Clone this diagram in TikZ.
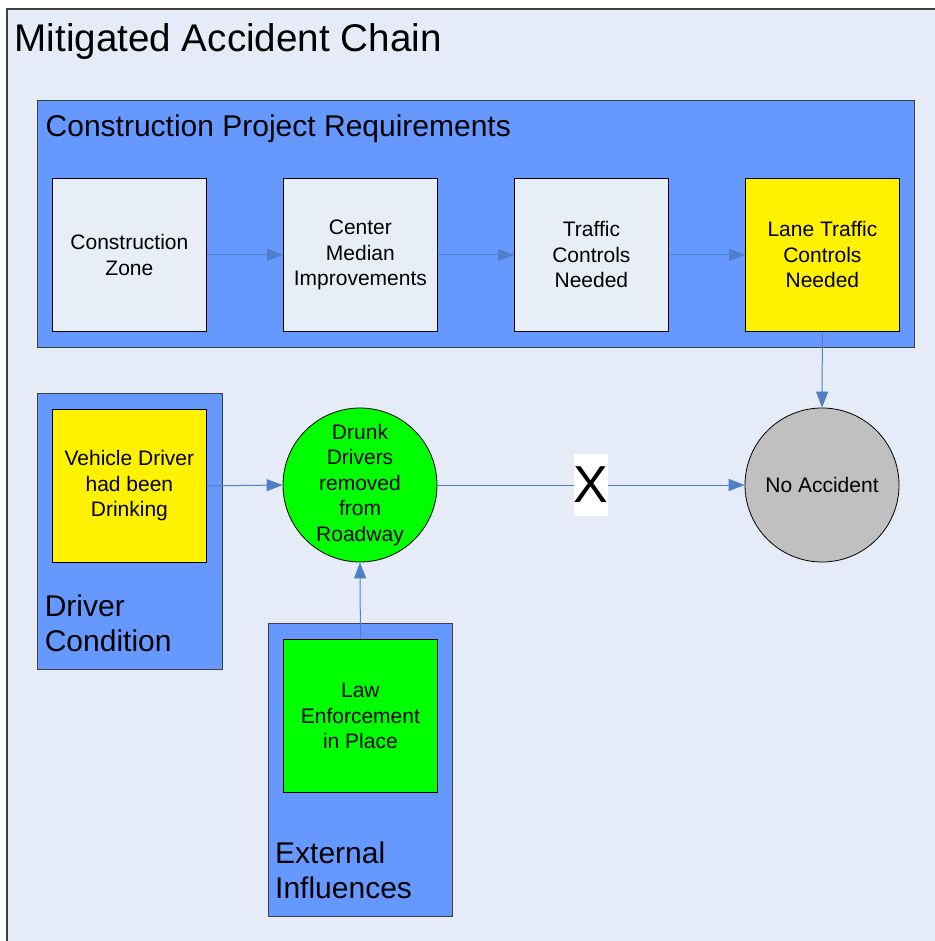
\documentclass[tikz,border=0pt]{standalone}
\usepackage{fontspec}
\setmainfont{Liberation Sans}
\usetikzlibrary{arrows.meta}

\definecolor{pagebg}{HTML}{E6ECF7}
\definecolor{groupblue}{HTML}{6699FF}
\definecolor{boxfill}{HTML}{E8EEF8}
\definecolor{linkblue}{HTML}{4F7FC6}
\definecolor{framegray}{HTML}{404040}
\definecolor{stopgray}{HTML}{C0C0C0}

\newcommand{\boxfont}{\fontsize{21}{25.5}\selectfont}
\newcommand{\groupfont}{\fontsize{30}{35}\selectfont}

\begin{document}
\begin{tikzpicture}[x=1pt,y=-1pt,
  frame/.style={draw=framegray, line width=1.5pt, fill=pagebg},
  group/.style={draw=black!75, line width=1pt, fill=groupblue, inner sep=0pt,
    anchor=north west},
  task/.style={draw=black, line width=0.8pt, minimum width=154pt, minimum height=153pt,
    inner sep=0pt, align=center, font=\boxfont, anchor=north west},
  state/.style={circle, draw=black, line width=0.8pt, minimum size=154pt,
    inner sep=0pt, align=center, font=\boxfont},
  grouplabel/.style={inner sep=0pt, anchor=base west, align=left, font=\groupfont},
  link/.style={draw=linkblue, line width=1pt,
    -{Triangle[length=16pt,width=12pt,fill=linkblue]}},
]
% page size
\useasboundingbox (0,0) rectangle (934,941);

% outer frame, running past the right and bottom page edges
\path[frame] (7,9) rectangle (960,970);
\node[inner sep=0pt, anchor=base west, font=\fontsize{38.6}{44}\selectfont]
  (title) at (14.5,52) {Mitigated Accident Chain};

% construction project group
\node[group, minimum width=877pt, minimum height=247pt] (gcp) at (37,100) {};
\node[grouplabel] (gcplabel) at (45.5,137) {Construction Project Requirements};
\node[task, fill=boxfill] (cz) at (52,178) {Construction\\Zone};
\node[task, fill=boxfill] (cm) at (283,178) {Center\\Median\\Improvements};
\node[task, fill=boxfill] (tc) at (514,178) {Traffic\\Controls\\Needed};
\node[task, fill=yellow] (lt) at (745,178) {Lane Traffic\\Controls\\Needed};

% driver condition group (label anchored on its last baseline)
\node[group, minimum width=185pt, minimum height=276pt] (gdc) at (37,393) {};
\node[task, fill=yellow] (vd) at (52,409) {Vehicle Driver\\had been\\Drinking};
\node[grouplabel] (gdclabel) at (44.6,651) {Driver\\Condition};

% external influences group
\node[group, minimum width=184pt, minimum height=293pt] (gei) at (268,623) {};
\node[task, fill=green] (le) at (283,639) {Law\\Enforcement\\in Place};
\node[grouplabel] (geilabel) at (275,898) {External\\Influences};

% states
\node[state, fill=green] (dd) at (360,485) {Drunk\\Drivers\\removed\\from\\Roadway};
\node[state, fill=stopgray] (na) at (822,485) {No Accident};

% connectors
\draw[link] (cz.east) -- (cm.west);
\draw[link] (cm.east) -- (tc.west);
\draw[link] (tc.east) -- (lt.west);
\draw[link] (lt.south) -- (na.north);
\draw[link] (vd.east) -- (dd.west);
\draw[link] (le.north) -- (dd.south);
\draw[link] (dd.east) -- node[fill=white, inner sep=0pt, minimum height=62pt,
  font=\fontsize{52}{60}\selectfont] (cut) {X} (na.west);
\end{tikzpicture}
\end{document}
